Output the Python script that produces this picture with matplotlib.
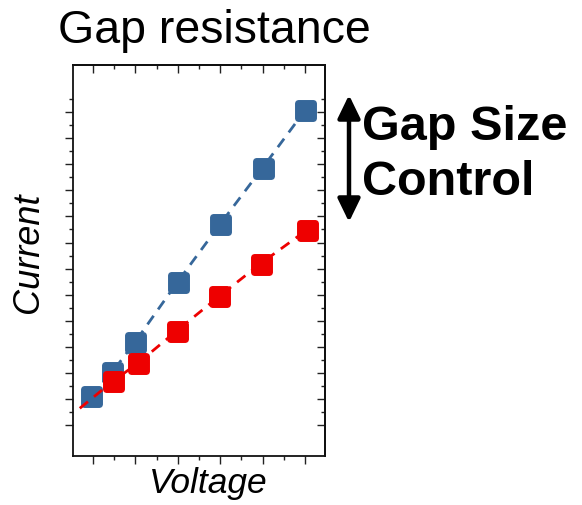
import matplotlib
matplotlib.use("Agg")
import matplotlib.pyplot as plt
from matplotlib.markers import MarkerStyle
from matplotlib.patches import FancyArrowPatch

plt.rcParams['font.family'] = ['Liberation Sans', 'DejaVu Sans']

# Small-gap device (steeper I-V)
blue_v = [0.95, 1.45, 2.0, 3.0, 4.0, 5.0, 6.0]
blue_i = [1.1, 2.02, 3.2, 5.5, 7.71, 9.87, 12.07]

# Large-gap device (shallower I-V)
red_v = [1.48, 2.06, 2.98, 3.98, 4.95, 6.05]
red_i = [1.69, 2.37, 3.62, 4.94, 6.19, 7.49]
# dashed trend line starts a little before the first red point
red_line_v = [0.69] + red_v
red_line_i = [0.64] + red_i

x_major = [1, 2, 3, 4, 5, 6]
x_minor = [1.5, 2.5, 3.5, 4.5, 5.5]
y_major = list(range(0, 13))
y_minor = [k + 0.5 for k in range(0, 13)]

BLUE = '#36679a'
RED = '#ee0000'

W, H = 582, 506
fig = plt.figure(figsize=(W / 100, H / 100), dpi=100)
ax = fig.add_axes([73 / W, 1 - 457 / H, (325 - 73) / W, (457 - 66) / H])

sq = MarkerStyle('s', joinstyle='round')

ax.plot(blue_v, blue_i, ls=(0, (3.8, 2.8)), lw=2, color=BLUE, zorder=2)
ax.plot(blue_v, blue_i, ls='none', marker=sq, ms=10.8, mew=5,
        mfc=BLUE, mec=BLUE, zorder=3)
ax.plot(red_line_v, red_line_i, ls=(0, (3.8, 2.8)), lw=2, color=RED, zorder=4)
ax.plot(red_v, red_i, ls='none', marker=sq, ms=10.8, mew=5,
        mfc=RED, mec=RED, zorder=5)

ax.set_xlim(0.53, 6.47)
ax.set_ylim(-1.19, 13.81)
ax.set_xticks(x_major)
ax.set_xticks(x_minor, minor=True)
ax.set_yticks(y_major)
ax.set_yticks(y_minor, minor=True)
ax.set_xticklabels([])
ax.set_yticklabels([])

for s in ax.spines.values():
    s.set_linewidth(1.3)
    s.set_color('#111111')

ax.tick_params(which='both', direction='out', top=False, right=False,
               color='#222222', width=1.0)
ax.tick_params(which='major', length=5.5)
ax.tick_params(which='minor', length=3)

# inward mirror ticks on top and right
sec_x = ax.secondary_xaxis('top')
sec_x.set_xticks(x_major)
sec_x.set_xticks(x_minor, minor=True)
sec_x.set_xticklabels([])
sec_x.tick_params(which='both', direction='in', color='#222222', width=1.0)
sec_x.tick_params(which='major', length=5.5)
sec_x.tick_params(which='minor', length=3)
sec_x.spines['top'].set_linewidth(1.3)

sec_y = ax.secondary_yaxis('right')
sec_y.set_yticks(y_major)
sec_y.set_yticks(y_minor, minor=True)
sec_y.set_yticklabels([])
sec_y.tick_params(which='both', direction='in', color='#222222', width=1.0)
sec_y.tick_params(which='major', length=5.5)
sec_y.tick_params(which='minor', length=3)
sec_y.spines['right'].set_linewidth(1.3)

# labels
fig.text(214 / W, 1 - 43 / H, 'Gap resistance', fontsize=33.5,
         ha='center', va='baseline')
fig.text(28 / W, 1 - 253 / H, 'Current', fontsize=26, style='italic',
         rotation=90, ha='center', va='center')
fig.text(208 / W, 1 - 493 / H, 'Voltage', fontsize=25.5, style='italic',
         ha='center', va='baseline')
fig.text(362 / W, 1 - 140 / H, 'Gap Size', fontsize=35, fontweight='bold',
         ha='left', va='baseline')
fig.text(362 / W, 1 - 195 / H, 'Control', fontsize=35, fontweight='bold',
         ha='left', va='baseline')

arrow = FancyArrowPatch((349 / W, 1 - 96 / H), (349 / W, 1 - 223 / H),
                        transform=fig.transFigure,
                        arrowstyle='<|-|>,head_length=14,head_width=6.8',
                        mutation_scale=1, lw=3.2, color='black',
                        shrinkA=0, shrinkB=0)
fig.patches.append(arrow)

fig.savefig('out.png', dpi=100)
